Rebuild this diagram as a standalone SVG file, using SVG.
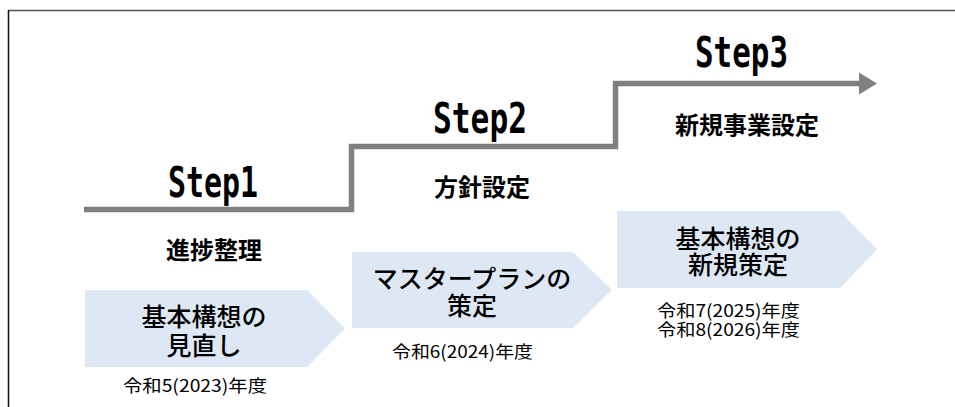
<svg xmlns="http://www.w3.org/2000/svg" width="955" height="407" viewBox="0 0 955 407">
<style>
.step{font-family:"DejaVu Sans Mono","Liberation Mono",monospace;font-weight:bold;font-size:42px;fill:#000}
.sub{font-family:"Noto Sans CJK JP",sans-serif;font-weight:bold;font-size:24px;fill:#000;text-anchor:middle}
.box{fill:#dde8f4}
.lbl{font-family:"Noto Sans CJK JP",sans-serif;font-weight:500;font-size:25px;fill:#000;text-anchor:middle}
.date{font-family:"Noto Sans CJK JP",sans-serif;font-size:17.5px;fill:#000}
</style>
<rect width="955" height="407" fill="#fff"/>
<line x1="8" y1="10.5" x2="955" y2="10.5" stroke="#555" stroke-width="1.5"/>
<line x1="8.5" y1="10" x2="8.5" y2="407" stroke="#111" stroke-width="1.5"/>
<g id="connectors">
<path d="M84,209.5 H351.5 V146.5 H615.5 V83.5 H860" fill="none" stroke="#808080" stroke-width="5.5"/>
<polygon points="859,72.5 877,83.5 859,94.5" fill="#808080"/>
</g>
<g id="step1">
<text class="step" x="168" y="196.5" textLength="90" lengthAdjust="spacingAndGlyphs">Step1</text>
<text class="sub" x="214" y="258.5">進捗整理</text>
<polygon class="box" points="85,290 307,290 345,328.5 307,367 85,367"/>
<text class="lbl"><tspan x="204" y="326">基本構想の</tspan><tspan x="204" y="354.5">見直し</tspan></text>
<text class="date" x="123" y="391.5" textLength="144" lengthAdjust="spacingAndGlyphs">令和5(2023)年度</text>
</g>
<g id="step2">
<text class="step" x="433" y="132.5" textLength="94" lengthAdjust="spacingAndGlyphs">Step2</text>
<text class="sub" x="482" y="195.5">方針設定</text>
<polygon class="box" points="352,252 573,252 612,290 573,328 352,328"/>
<text class="lbl"><tspan x="472" y="288">マスタープランの</tspan><tspan x="472" y="315">策定</tspan></text>
<text class="date" x="392" y="357.5" textLength="141" lengthAdjust="spacingAndGlyphs">令和6(2024)年度</text>
</g>
<g id="step3">
<text class="step" x="695" y="66.5" textLength="93" lengthAdjust="spacingAndGlyphs">Step3</text>
<text class="sub" x="747" y="133.5">新規事業設定</text>
<polygon class="box" points="617,211 840,211 877,249.5 840,288 617,288"/>
<text class="lbl"><tspan x="738" y="248">基本構想の</tspan><tspan x="738" y="274">新規策定</tspan></text>
<text class="date"><tspan x="657" y="316.5" textLength="143" lengthAdjust="spacingAndGlyphs">令和7(2025)年度</tspan><tspan x="657" y="335.5" textLength="143" lengthAdjust="spacingAndGlyphs">令和8(2026)年度</tspan></text>
</g>
</svg>
